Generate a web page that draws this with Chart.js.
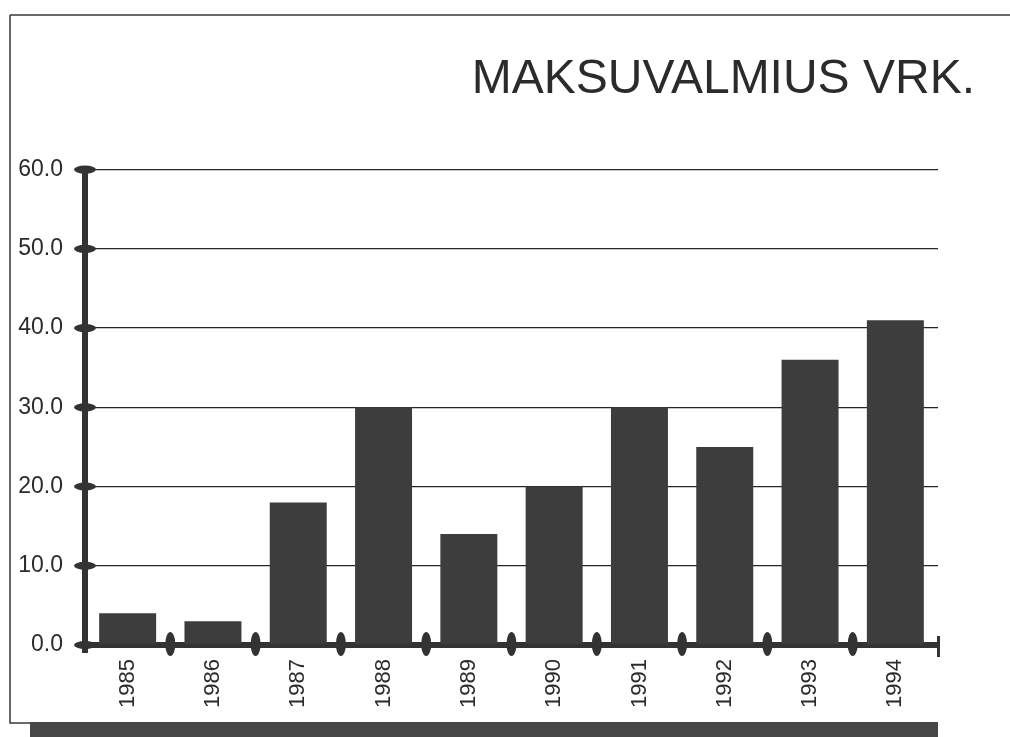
<!DOCTYPE html>
<html>
<head>
<meta charset="utf-8">
<script src="https://cdn.jsdelivr.net/npm/chart.js@4/dist/chart.umd.min.js"></script>
<style>
html,body{margin:0;padding:0;background:#fff;}
canvas{display:block;}
</style>
</head>
<body>
<canvas id="c" width="1010" height="737"></canvas>
<script>
const categories = ['1985','1986','1987','1988','1989','1990','1991','1992','1993','1994'];
const values = [4, 3, 18, 30, 14, 20, 30, 25, 36, 41];
const yTicks = [0, 10, 20, 30, 40, 50, 60];
const titleText = 'MAKSUVALMIUS VRK.';

const FONT = "'Liberation Sans', Arial, Helvetica, sans-serif";
const INK = '#2b2b2b';
const AXIS = '#333333';

const framePlugin = {
  id: 'frame',
  beforeDraw(chart) {
    const ctx = chart.ctx;
    ctx.save();
    ctx.fillStyle = '#ffffff';
    ctx.fillRect(0, 0, chart.width, chart.height);
    ctx.strokeStyle = '#3a3a3a';
    ctx.lineWidth = 1.5;
    ctx.beginPath();
    ctx.moveTo(10, 15); ctx.lineTo(chart.width, 15);
    ctx.moveTo(10, 15); ctx.lineTo(10, 723); ctx.lineTo(32, 723);
    ctx.stroke();
    ctx.fillStyle = '#474747';
    ctx.fillRect(30, 722, 908, 15);
    ctx.restore();
  },
  afterLayout(chart) {
    if (chart.titleBlock) {
      chart.titleBlock.right = chart.width - 35;
    }
  }
};

const axisMarks = {
  id: 'axisMarks',
  afterDraw(chart) {
    const ctx = chart.ctx;
    const x = chart.scales.x, y = chart.scales.y;
    const area = chart.chartArea;
    ctx.save();
    ctx.fillStyle = AXIS;
    // y-axis tick marks
    yTicks.forEach(v => {
      const py = y.getPixelForValue(v);
      ctx.beginPath();
      ctx.ellipse(area.left, py, 11, 4, 0, 0, Math.PI * 2);
      ctx.fill();
    });
    // y-axis extends slightly below zero
    ctx.fillRect(area.left - 3, area.bottom, 6, 8);
    // x-axis tick marks at category boundaries
    for (let i = 0; i < categories.length - 1; i++) {
      const px = (x.getPixelForValue(i) + x.getPixelForValue(i + 1)) / 2;
      ctx.beginPath();
      ctx.ellipse(px, area.bottom - 1, 5, 12, 0, 0, Math.PI * 2);
      ctx.fill();
    }
    // right end cap
    ctx.fillRect(area.right - 1, area.bottom - 9, 3, 21);
    ctx.restore();
  }
};

new Chart(document.getElementById('c'), {
  type: 'bar',
  data: {
    labels: categories,
    datasets: [{
      data: values,
      backgroundColor: '#3d3d3d',
      borderWidth: 0,
      barPercentage: 0.668,
      categoryPercentage: 1.0
    }]
  },
  options: {
    responsive: false,
    animation: false,
    devicePixelRatio: 1,
    layout: { padding: { left: 10, right: 72, top: 10, bottom: 0 } },
    plugins: {
      legend: { display: false },
      tooltip: { enabled: false },
      title: {
        display: true,
        text: titleText,
        align: 'end',
        color: INK,
        font: { family: FONT, size: 48, weight: 'normal', lineHeight: 1.2 },
        padding: { top: 41, bottom: 61 }
      }
    },
    scales: {
      x: {
        offset: true,
        grid: { display: false, drawTicks: false },
        border: { display: true, color: AXIS, width: 6 },
        ticks: {
          color: INK,
          font: { family: FONT, size: 22 },
          minRotation: 90,
          maxRotation: 90,
          autoSkip: false,
          padding: 14
        },
        afterFit(scale) { scale.height = 92; }
      },
      y: {
        min: 0,
        max: 60,
        grid: { color: '#262626', lineWidth: 1.3, drawTicks: false },
        border: { display: true, color: AXIS, width: 6 },
        ticks: {
          stepSize: 10,
          color: INK,
          font: { family: FONT, size: 23 },
          padding: 22,
          callback: (v) => Number(v).toFixed(1)
        },
        afterFit(scale) { scale.width = 75; }
      }
    }
  },
  plugins: [framePlugin, axisMarks]
});
</script>
</body>
</html>
